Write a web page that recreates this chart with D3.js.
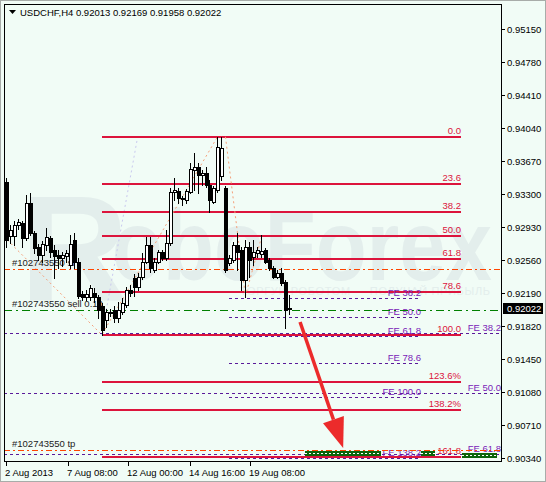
<!DOCTYPE html>
<html><head><meta charset="utf-8">
<script src="https://cdn.jsdelivr.net/npm/d3@7"></script>
<style>
html,body{margin:0;padding:0;background:#f1fcf6;}
svg{display:block;font-family:"Liberation Sans",Arial,sans-serif;}
</style></head><body>
<svg id="chart" width="546" height="482"></svg>
<script>
// ---- chart data -------------------------------------------------------
const symbol = "USDCHF,H4";
const lastQuote = [0.92013, 0.92169, 0.91958, 0.92022];

const opens  = [0.93438,0.92832,0.92832,0.92956,0.92978,0.92810,0.93202,0.92866,0.92709,0.92620,0.92732,0.92810,0.92676,0.92620,0.92586,0.92608,0.92507,0.92788,0.92541,0.92182,0.92149,0.92149,0.92193,0.92149,0.92048,0.91891,0.91980,0.92003,0.91913,0.91980,0.92059,0.92227,0.92362,0.92261,0.92373,0.92541,0.92732,0.92451,0.92541,0.92653,0.92586,0.92754,0.93326,0.93337,0.93247,0.93236,0.93326,0.93572,0.93606,0.93516,0.93539,0.93404,0.93214,0.93348,0.93500,0.93371,0.92530,0.92564,0.92732,0.92676,0.92339,0.92709,0.92597,0.92642,0.92631,0.92676,0.92564,0.92474,0.92373,0.92418,0.92317,0.92013];
const highs  = [0.93483,0.92956,0.93001,0.93023,0.93001,0.93292,0.93315,0.92888,0.92743,0.92776,0.92922,0.92832,0.92732,0.92676,0.92653,0.92676,0.92844,0.92866,0.92586,0.92216,0.92227,0.92283,0.92250,0.92171,0.92081,0.92014,0.92014,0.92048,0.92093,0.92137,0.92261,0.92283,0.92406,0.92418,0.92642,0.92821,0.92821,0.92586,0.92676,0.92676,0.92900,0.93371,0.93483,0.93371,0.93281,0.93359,0.93651,0.93763,0.93651,0.93572,0.93606,0.93460,0.93393,0.93945,0.93940,0.93393,0.92620,0.92765,0.92866,0.92709,0.92788,0.92765,0.92788,0.92709,0.92844,0.92698,0.92586,0.92496,0.92451,0.92474,0.92339,0.92169];
const lows   = [0.92709,0.92754,0.92732,0.92911,0.92709,0.92788,0.92844,0.92642,0.92564,0.92541,0.92676,0.92597,0.92362,0.92474,0.92496,0.92541,0.92474,0.92474,0.92137,0.92115,0.92115,0.92115,0.92093,0.91913,0.91725,0.91812,0.91936,0.91868,0.91868,0.91958,0.92037,0.92160,0.92160,0.92227,0.92350,0.92530,0.92429,0.92429,0.92530,0.92564,0.92564,0.92732,0.93236,0.93202,0.93180,0.93202,0.93315,0.93348,0.93315,0.93404,0.93382,0.93102,0.93202,0.93326,0.93460,0.92429,0.92507,0.92541,0.92451,0.92227,0.92149,0.92373,0.92507,0.92597,0.92597,0.92530,0.92451,0.92362,0.92362,0.92283,0.91801,0.91958];
const closes = [0.92788,0.92900,0.92956,0.92990,0.92810,0.93202,0.92866,0.92698,0.92620,0.92743,0.92821,0.92653,0.92608,0.92586,0.92620,0.92642,0.92743,0.92541,0.92160,0.92149,0.92182,0.92250,0.92149,0.92003,0.91779,0.91980,0.91969,0.91913,0.92003,0.92081,0.92227,0.92193,0.92261,0.92373,0.92541,0.92732,0.92474,0.92541,0.92653,0.92586,0.92754,0.93326,0.93348,0.93258,0.93258,0.93337,0.93584,0.93606,0.93516,0.93539,0.93404,0.93236,0.93371,0.93830,0.93819,0.92451,0.92586,0.92732,0.92653,0.92339,0.92709,0.92564,0.92653,0.92676,0.92664,0.92541,0.92474,0.92373,0.92418,0.92306,0.92003,0.92022];

const timeLabels    = ["2 Aug 2013", "7 Aug 08:00", "12 Aug 00:00", "14 Aug 16:00", "19 Aug 08:00"];
const timeLabelBars = [0, 15.5, 30.5, 46, 61.2];
const priceTicks = [0.95150,0.94780,0.94410,0.94040,0.93670,0.93300,0.92930,0.92560,0.92190,0.91820,0.91450,0.91080,0.90710,0.90340];

// Fibonacci retracement (from the swing low to the swing high)
const fibHigh = 0.93945, fibLow = 0.91725;
const fibRatios = [0, 23.6, 38.2, 50, 61.8, 78.6, 100, 123.6, 138.2, 161.8];
const fibTexts  = ["0.0","23.6","38.2","50.0","61.8","78.6","100.0","123.6%","138.2%","161.8"];
const fibBars = [24, 114];           // level lines run between these bars
const fibAnchorBars = [24, 33];      // tool base line (low -> high)

// Fibonacci expansions: anchors [bar, price] A, B, C
const feLeftAnchors  = [[55, 0.93945], [60, 0.92160], [64, 0.92815]];
const feLeftRatios   = [38.2, 50, 61.8, 78.6, 100, 138.2];
const feLeftBars     = [56, 104];
const feRightAnchors = [[-104, 0.97475], [24, 0.91725], [53, 0.93945]];
const feRightRatios  = [38.2, 50, 61.8];
const feRightBars    = [-2, 124];

// order #102743550
const orderId = "#102743550";
const orderOpen = 0.92003, orderSL = 0.92462, orderTP = 0.90434, orderLots = "0.10";

// forecast arrow [bar, price]
const arrowFrom = [73.7, 0.91868];
const arrowTo   = [84.5, 0.90456];

// target zones [bar from, bar to, price]
const targetZones = [[75, 94, 0.90400], [104, 107.5, 0.90400], [114.3, 123, 0.90378]];

// ---- drawing -----------------------------------------------------------
const W = 546, H = 482;
const plot = {left: 4, right: 501, top: 4, bottom: 461};
const svg = d3.select("#chart");

const x = d3.scaleLinear().domain([0, opens.length - 1]).range([6, 289.3]);
const y = d3.scaleLinear().domain([0.90310, 0.95434]).range([plot.bottom, plot.top]);
const X = i => Math.round(x(i));
const Y = p => Math.round(y(p));

// window background and border
svg.append("rect").attr("width", W).attr("height", H).attr("fill", "#f1fcf6");
svg.append("rect").attr("x", 0.5).attr("y", 0.5).attr("width", W - 1).attr("height", H - 1)
  .attr("fill", "none").attr("stroke", "#a8aca9");

svg.append("clipPath").attr("id", "plotclip").append("rect")
  .attr("x", plot.left + 1).attr("y", plot.top + 1)
  .attr("width", plot.right - plot.left - 1).attr("height", plot.bottom - plot.top - 1);
const g = svg.append("g").attr("clip-path", "url(#plotclip)");

// watermark
const wm = g.append("g").attr("fill", "#e3eeec");
wm.append("text").attr("x", 20).attr("y", 300).attr("font-size", 150).attr("font-weight", "bold").text("R");
wm.append("text").attr("x", 112).attr("y", 280).attr("font-size", 100).attr("font-weight", "bold")
  .attr("textLength", 380).attr("lengthAdjust", "spacingAndGlyphs").text("oboForex");
wm.append("text").attr("x", 240).attr("y", 295).attr("font-size", 11)
  .attr("textLength", 250).text("ТОРГУЙ РОБОТОМ — ПОЛУЧАЙ ПРИБЫЛЬ");

// fibonacci retracement levels
const fibLevels = fibRatios.map((r, k) => ({r, text: fibTexts[k], p: fibHigh - r / 100 * (fibHigh - fibLow)}));
const fg = g.append("g");
fg.append("line")
  .attr("x1", x(fibAnchorBars[0])).attr("y1", y(fibLow))
  .attr("x2", x(fibAnchorBars[1])).attr("y2", y(fibHigh))
  .attr("stroke", "#c9c9ef").attr("stroke-dasharray", "2,3");
fg.selectAll("line.fib").data(fibLevels).join("line").attr("class", "fib")
  .attr("x1", X(fibBars[0])).attr("x2", X(fibBars[1]))
  .attr("y1", d => Y(d.p)).attr("y2", d => Y(d.p))
  .attr("stroke", "#dc143c").attr("stroke-width", 2);
fg.selectAll("text.fib").data(fibLevels).join("text").attr("class", "fib")
  .attr("x", X(fibBars[1])).attr("y", d => Y(d.p) - 3)
  .attr("text-anchor", "end").attr("font-size", 9.5).attr("fill", "#dc143c")
  .text(d => d.text);

// fibonacci expansions
function expansion(anchors, ratios, bars) {
  const [A, B, C] = anchors;
  const range = A[1] - B[1];
  const levels = ratios.map(r => ({r, p: C[1] - r / 100 * range}));
  const eg = g.append("g");
  eg.append("path")
    .attr("d", d3.line().x(d => x(d[0])).y(d => y(d[1]))(anchors))
    .attr("fill", "none").attr("stroke", "#f5a07a").attr("stroke-dasharray", "2,3");
  eg.selectAll("line").data(levels).join("line")
    .attr("x1", X(bars[0])).attr("x2", X(bars[1]))
    .attr("y1", d => Y(d.p) + 0.5).attr("y2", d => Y(d.p) + 0.5)
    .attr("stroke", "#5a1a9a").attr("stroke-dasharray", "3,3");
  eg.selectAll("text").data(levels).join("text")
    .attr("x", X(bars[1])).attr("y", d => Y(d.p) - 2)
    .attr("text-anchor", "end").attr("font-size", 9.5).attr("fill", "#7a22b8")
    .text(d => "FE " + d.r.toFixed(1));
}
expansion(feRightAnchors, feRightRatios, feRightBars);
expansion(feLeftAnchors, feLeftRatios, feLeftBars);

// order lines
const og = g.append("g");
const orders = [
  {p: orderSL, color: "#ff4500", dash: "6,3,2,3", label: orderId + " sl"},
  {p: orderOpen, color: "#008000", dash: "8,4,2,4", label: orderId + " sell " + orderLots},
  {p: orderTP, color: "#ff4500", dash: "6,3,2,3", label: orderId + " tp"}
];
og.selectAll("line").data(orders).join("line")
  .attr("x1", plot.left).attr("x2", plot.right)
  .attr("y1", d => Y(d.p) + 0.5).attr("y2", d => Y(d.p) + 0.5)
  .attr("stroke", d => d.color).attr("stroke-dasharray", d => d.dash);
og.selectAll("text").data(orders).join("text")
  .attr("x", 12).attr("y", d => Y(d.p) - 3)
  .attr("font-size", 9.5).attr("fill", "#222").text(d => d.label);

// target zones
const zg = g.append("g");
zg.selectAll("rect").data(targetZones).join("rect")
  .attr("x", d => X(d[0])).attr("width", d => X(d[1]) - X(d[0]))
  .attr("y", d => Y(d[2]) - 2).attr("height", 5).attr("fill", "#0b650b");
zg.selectAll("line").data(targetZones).join("line")
  .attr("x1", d => X(d[0])).attr("x2", d => X(d[1]))
  .attr("y1", d => Y(d[2]) + 0.5).attr("y2", d => Y(d[2]) + 0.5)
  .attr("stroke", "#ffffff").attr("stroke-dasharray", "2,2");

// candles
const candles = opens.map((o, i) => ({i, o, h: highs[i], l: lows[i], c: closes[i]}));
const cg = g.append("g").attr("shape-rendering", "crispEdges");
cg.selectAll("line").data(candles).join("line")
  .attr("x1", d => X(d.i) + 0.5).attr("x2", d => X(d.i) + 0.5)
  .attr("y1", d => Y(d.h)).attr("y2", d => Y(d.l) + 1)
  .attr("stroke", "#000");
cg.selectAll("rect").data(candles).join("rect")
  .attr("x", d => X(d.i) - 0.5).attr("width", 3)
  .attr("y", d => Y(Math.max(d.o, d.c)) + 0.5)
  .attr("height", d => Math.max(0, Y(Math.min(d.o, d.c)) - Y(Math.max(d.o, d.c))))
  .attr("fill", d => d.c >= d.o ? "#ffffff" : "#000000").attr("stroke", "#000");

// forecast arrow
const ax0 = x(arrowFrom[0]), ay0 = y(arrowFrom[1]), ax1 = x(arrowTo[0]), ay1 = y(arrowTo[1]);
const len = Math.hypot(ax1 - ax0, ay1 - ay0), ux = (ax1 - ax0) / len, uy = (ay1 - ay0) / len;
const bx = ax1 - ux * 30, by = ay1 - uy * 30;
g.append("line").attr("x1", ax0).attr("y1", ay0).attr("x2", bx).attr("y2", by)
  .attr("stroke", "#ec2b2b").attr("stroke-width", 3.5);
g.append("path").attr("fill", "#ec2b2b")
  .attr("d", `M${ax1},${ay1}L${bx - uy * 11},${by + ux * 11}L${bx + uy * 11},${by - ux * 11}Z`);

// frame
svg.append("rect").attr("x", plot.left + 0.5).attr("y", plot.top + 0.5)
  .attr("width", plot.right - plot.left).attr("height", plot.bottom - plot.top)
  .attr("fill", "none").attr("stroke", "#000").attr("shape-rendering", "crispEdges");

// price axis
const ya = svg.append("g").attr("shape-rendering", "crispEdges");
ya.selectAll("line").data(priceTicks).join("line")
  .attr("x1", plot.right + 1).attr("x2", plot.right + 4)
  .attr("y1", d => Y(d) + 0.5).attr("y2", d => Y(d) + 0.5).attr("stroke", "#000");
svg.append("g").selectAll("text").data(priceTicks).join("text")
  .attr("x", 507).attr("y", d => Y(d) + 4).attr("font-size", 9.5).attr("fill", "#000")
  .text(d => d.toFixed(5));
const cp = lastQuote[3];
svg.append("rect").attr("x", plot.right + 2).attr("y", Y(cp) - 5).attr("width", 40).attr("height", 11).attr("fill", "#000");
svg.append("text").attr("x", 507).attr("y", Y(cp) + 4).attr("font-size", 9.5).attr("fill", "#fff").text(cp.toFixed(5));

// time axis
svg.append("g").attr("shape-rendering", "crispEdges").selectAll("line").data(timeLabelBars).join("line")
  .attr("x1", d => X(d) + 0.5).attr("x2", d => X(d) + 0.5)
  .attr("y1", plot.bottom + 1).attr("y2", plot.bottom + 5).attr("stroke", "#000");
svg.append("g").selectAll("text").data(timeLabels).join("text")
  .attr("x", (d, k) => X(timeLabelBars[k]) - 1).attr("y", 476)
  .attr("font-size", 9.5).attr("fill", "#000").text(d => d);

// title
svg.append("path").attr("d", "M9,10L16,10L12.5,14Z").attr("fill", "#000");
svg.append("text").attr("x", 20).attr("y", 16).attr("font-size", 9.5).attr("fill", "#000")
  .text(symbol + "  " + lastQuote.map(v => v.toFixed(5)).join(" "));
</script>
</body></html>
